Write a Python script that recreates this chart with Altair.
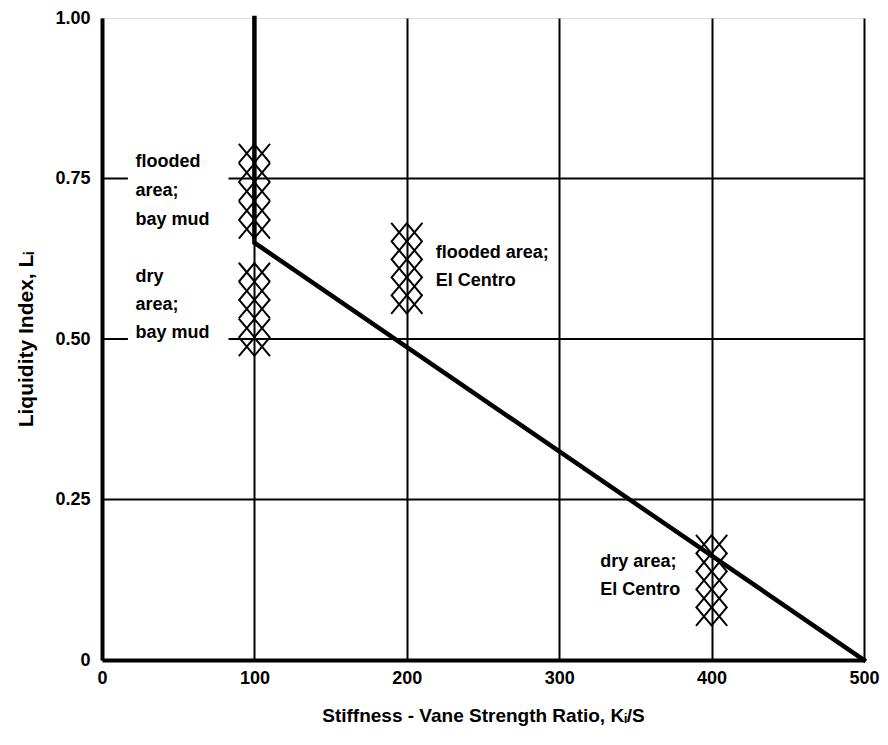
import altair as alt
import pandas as pd

# ---- data ----
curve_x = [100, 100, 500]
curve_y = [1.00, 0.65, 0.00]

# marker stacks: (centre x, two column offsets, row y values)
stack_names = ["flooded bay mud", "dry bay mud", "flooded El Centro", "dry El Centro"]
stack_x = [100, 100, 200, 400]
stack_rows = [
    [0.789, 0.759, 0.730, 0.700, 0.671],
    [0.604, 0.575, 0.547, 0.517, 0.488],
    [0.666, 0.638, 0.610, 0.582, 0.554],
    [0.180, 0.152, 0.124, 0.096, 0.068],
]
column_offsets = [-5.0, 5.0]

label_text = ["flooded", "area;", "bay mud", "dry", "area;", "bay mud",
              "flooded area;", "El Centro", "dry area;", "El Centro"]
label_x = [22, 22, 22, 22, 22, 22, 219, 219, 327, 327]
label_y = [0.775, 0.730, 0.686, 0.596, 0.553, 0.509, 0.634, 0.590, 0.152, 0.109]

# horizontal grid lines (0.50 and 0.75 are interrupted behind the labels)
grid_y = [0.25, 0.50, 0.50, 0.75, 0.75]
grid_x1 = [0, 0, 83, 0, 83]
grid_x2 = [500, 17, 500, 17, 500]

x_ticks = [0, 100, 200, 300, 400, 500]
y_ticks = [0, 0.25, 0.50, 0.75, 1.00]

FONT = "Liberation Sans"

# ---- tables ----
curve_df = pd.DataFrame({"x": curve_x, "y": curve_y, "order": range(len(curve_x))})
pts = []
for name, cx, rows in zip(stack_names, stack_x, stack_rows):
    for off in column_offsets:
        for yv in rows:
            pts.append({"group": name, "x": cx + off, "y": yv})
pts_df = pd.DataFrame(pts)
lab_df = pd.DataFrame({"text": label_text, "x": label_x, "y": label_y})
grid_df = pd.DataFrame({"y": grid_y, "x1": grid_x1, "x2": grid_x2})

xscale = alt.Scale(domain=[0, 500], nice=False)
yscale = alt.Scale(domain=[0, 1], nice=False)

xaxis = alt.Axis(values=x_ticks, grid=True, gridColor="black", gridWidth=2, gridOpacity=1,
                 ticks=False, domain=True, domainColor="black", domainWidth=4,
                 labelFont=FONT, labelFontSize=18, labelFontWeight="bold", labelColor="black",
                 labelPadding=9, labelFlush=False,
                 title="Stiffness - Vane Strength Ratio,  Kᵢ/S", titleFont=FONT, titleFontSize=19,
                 titleFontWeight="bold", titleColor="black", titlePadding=19)
yaxis = alt.Axis(values=y_ticks, grid=False, ticks=False, domain=True, domainColor="black",
                 domainWidth=4, labelFont=FONT, labelFontSize=18, labelFontWeight="bold",
                 labelColor="black", labelPadding=12, labelFlush=False,
                 labelExpr="datum.value == 0 ? '0' : format(datum.value, '.2f')",
                 title="Liquidity Index, Lᵢ", titleFont=FONT, titleFontSize=21,
                 titleFontWeight="bold", titleColor="black", titlePadding=18)

base_x = alt.X("x:Q", scale=xscale, axis=xaxis)
base_y = alt.Y("y:Q", scale=yscale, axis=yaxis)

grid = alt.Chart(grid_df).mark_rule(color="black", strokeWidth=2).encode(
    x=alt.X("x1:Q", scale=xscale, axis=xaxis), x2="x2:Q",
    y=alt.Y("y:Q", scale=yscale, axis=yaxis),
)

curve = alt.Chart(curve_df).mark_line(color="black", strokeWidth=4.5, strokeCap="square").encode(
    x=base_x, y=base_y, order="order:Q"
)

xpath = "M-0.84,-1L0.84,1M0.84,-1L-0.84,1"
marks = alt.Chart(pts_df).mark_point(shape=xpath, size=361, color="black", strokeWidth=2,
                                     filled=False, opacity=1).encode(
    x=base_x, y=base_y, detail="group:N"
)

labels = alt.Chart(lab_df).mark_text(align="left", baseline="middle", font=FONT, fontSize=18,
                                     fontWeight="bold", color="black").encode(
    x=base_x, y=base_y, text="text:N"
)

chart = alt.layer(grid, curve, marks, labels).properties(
    width=762, height=642,
    autosize=alt.AutoSizeParams(type="none"),
    padding={"left": 94, "top": 10, "right": 16, "bottom": 70},
).configure_view(stroke="black", strokeWidth=2.5).configure(background="white")

chart.save("out.html", embed_options={"renderer": "svg", "actions": False})
